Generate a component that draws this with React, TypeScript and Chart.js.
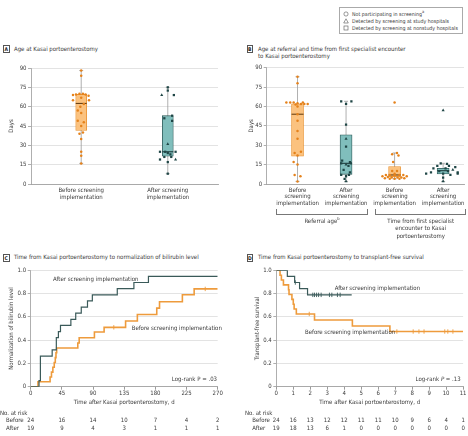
import React, { useEffect, useRef } from 'react';
import { Chart, registerables } from 'chart.js';

Chart.register(...registerables);

const FONT = '"Liberation Sans Narrow", "DejaVu Sans Condensed", "Liberation Sans", Arial, sans-serif';
const FS = 6;
const TXT = '#3a3a3a';
const GRID = '#dcdcdc';
const AXIS = '#9a9a9a';
const WHISKER = '#9a9a9a';
const ORANGE_DOT = '#E5821B';
const ORANGE_FILL = '#FBC27F';
const ORANGE_EDGE = '#E9912F';
const ORANGE_MED = '#6b4316';
const TEAL_DOT = '#1F4646';
const TEAL_FILL = '#80BEBC';
const TEAL_EDGE = '#2C5756';
const TEAL_MED = '#1d3c3c';
const KM_AFTER = '#3A5A59';
const KM_BEFORE = '#EE9B3C';

// ---------- Panel A : age at Kasai portoenterostomy ----------
const aLabels = [['Before screening', 'implementation'], ['After screening', 'implementation']];
const aBeforeStats = [16, 41.5, 62.5, 69.5, 88]; // min, q1, median, q3, max
const aAfterStats = [8, 21.5, 25, 53, 75];
const aBeforeDays = [88, 84, 70, 70, 69.5, 69.5, 68.5, 69, 67, 65, 65, 62, 60, 57, 55, 49, 48, 45, 40, 39, 35, 25, 22, 16];
const aBeforeJitter = [0, 0, -0.02, 0.02, -0.06, 0.05, 0.085, -0.095, 0, -0.095, 0.09, 0.03, -0.01, -0.04, 0, -0.04, 0.03, 0, 0.02, -0.02, 0, 0, 0, 0];
const aAfterDays = [75, 72.5, 69, 69, 53, 51, 49, 31, 25, 25, 25, 24, 23, 21, 21, 19, 19, 17, 8];
const aAfterJitter = [0, 0, -0.07, 0.07, 0.05, -0.04, 0.05, 0, -0.09, 0.09, -0.03, 0, 0.03, -0.04, 0.04, -0.09, 0.09, 0, 0];
const aAfterShapes = ['rect', 'rect', 'triangle', 'rect', 'rect', 'rect', 'rect', 'triangle', 'rect', 'rect', 'rect', 'rect', 'rect', 'rect', 'rect', 'rect', 'triangle', 'rect', 'rect'];

// ---------- Panel B : referral age and first specialist -> Kasai ----------
const bLabels = [
  ['Before', 'screening', 'implementation'],
  ['After', 'screening', 'implementation'],
  ['Before', 'screening', 'implementation'],
  ['After', 'screening', 'implementation'],
];
const bRefBeforeStats = [2, 21.5, 54, 62, 83];
const bRefAfterStats = [2, 7.5, 16, 38, 64];
const bKasaiBeforeStats = [4, 5.7, 7, 13.5, 24];
const bKasaiAfterStats = [2, 7.8, 10.3, 12.2, 16];
const bRefBeforeDays = [83, 78, 63, 63, 63, 63, 62.5, 62, 62, 62, 61.5, 60, 54, 49, 41, 35, 25, 24, 22, 17, 15, 7, 6, 2];
const bRefBeforeJitter = [0, 0, -0.23, -0.15, -0.08, 0.11, 0, 0.07, 0.14, 0.21, -0.04, 0, 0, 0, 0, 0, 0.07, -0.06, 0, -0.08, 0, -0.06, 0.06, 0];
const bRefAfterDays = [64, 64, 62, 46, 35, 29, 18, 17, 16, 16, 15, 14, 11, 9, 7, 7, 6, 4, 2];
const bRefAfterJitter = [-0.1, 0.11, 0, 0, 0, 0, -0.08, 0.08, -0.1, 0.1, 0, 0.05, -0.05, 0.08, -0.1, 0.06, 0, -0.03, 0];
const bRefAfterShapes = ['rect', 'rect', 'rect', 'rect', 'triangle', 'rect', 'rect', 'rect', 'rect', 'rect', 'triangle', 'rect', 'rect', 'rect', 'rect', 'rect', 'rect', 'rect', 'triangle'];
const bKasaiBeforeDays = [63, 24, 23, 22, 17, 10, 10, 8, 7, 7, 7, 7, 6.5, 6, 6, 5.5, 5, 5, 5, 4.5, 4.5, 4, 4, 4];
const bKasaiBeforeJitter = [0, 0.05, -0.05, 0.08, -0.03, -0.05, 0.05, 0, -0.18, 0.18, -0.1, 0.1, 0, -0.25, 0.25, -0.14, 0.14, -0.06, 0.06, -0.2, 0.2, 0, -0.1, 0.1];
const bKasaiAfterDays = [57, 16, 15.5, 14, 14, 13, 12, 12, 11, 10, 10, 9, 9, 8, 8, 8, 7, 5, 2];
const bKasaiAfterJitter = [0, -0.05, 0.08, -0.12, 0.12, 0.25, -0.2, 0.05, 0.2, -0.08, 0.1, 0.3, -0.25, -0.35, 0.3, 0, 0.15, 0, 0];
const bKasaiAfterShapes = ['triangle', 'rect', 'rect', 'rect', 'rect', 'rect', 'rect', 'rect', 'triangle', 'rect', 'rect', 'rect', 'rect', 'rect', 'rect', 'rect', 'rect', 'rect', 'triangle'];

// ---------- Panel C : normalization of bilirubin ----------
const cAfterDays = [0, 12, 14, 31, 37, 40, 43, 58, 65, 73, 82, 89, 125, 149, 170, 270];
const cAfterProp = [0, 0.053, 0.263, 0.316, 0.421, 0.474, 0.526, 0.579, 0.632, 0.684, 0.737, 0.789, 0.842, 0.895, 0.947, 0.947];
const cBeforeDays = [0, 10.5, 28, 30, 32, 34, 35.5, 36.5, 37.5, 68, 70, 92, 106, 137, 154, 182, 186, 219, 236, 270];
const cBeforeProp = [0, 0.042, 0.083, 0.125, 0.167, 0.208, 0.25, 0.292, 0.333, 0.375, 0.42, 0.47, 0.51, 0.565, 0.62, 0.675, 0.73, 0.79, 0.84, 0.84];
const cBeforeCensorDays = [120, 252];
const cBeforeCensorProp = [0.51, 0.84];
const cRiskTimes = [0, 45, 90, 135, 180, 225, 270];
const cRiskBefore = [24, 16, 14, 10, 7, 4, 2];
const cRiskAfter = [19, 9, 4, 3, 1, 1, 1];

// ---------- Panel D : transplant-free survival ----------
const dAfterTime = [0, 0.65, 1.08, 1.37, 1.84, 4.44];
const dAfterSurv = [1, 0.947, 0.895, 0.842, 0.789, 0.789];
const dAfterCensorTime = [1.12, 2.15, 2.25, 2.37, 2.49, 2.64, 3.13, 3.27, 3.6, 3.76];
const dAfterCensorSurv = [0.895, 0.789, 0.789, 0.789, 0.789, 0.789, 0.789, 0.789, 0.789, 0.789];
const dBeforeTime = [0, 0.22, 0.3, 0.42, 0.72, 0.75, 0.92, 1.0, 1.05, 1.18, 2.25, 4.48, 6.69, 11];
const dBeforeSurv = [1, 0.958, 0.917, 0.875, 0.833, 0.792, 0.75, 0.708, 0.667, 0.625, 0.573, 0.521, 0.474, 0.474];
const dBeforeCensorTime = [1.94, 7.1, 8.06, 8.4, 8.7, 9.92, 10.1, 10.4];
const dBeforeCensorSurv = [0.625, 0.474, 0.474, 0.474, 0.474, 0.474, 0.474, 0.474];
const dRiskTimes = [0, 1, 2, 3, 4, 5, 6, 7, 8, 9, 10, 11];
const dRiskBefore = [24, 16, 13, 12, 12, 11, 11, 10, 9, 6, 4, 1];
const dRiskAfter = [19, 18, 13, 6, 1, 0, 0, 0, 0, 0, 0, 0];

type Group = {
  stats: number[]; values: number[]; offsets: number[]; shapes: string[];
  fill: string; edge: string; dot: string; median: string;
};

const radiusFor = (s: string) => (s === 'rect' ? 1.6 : s === 'triangle' ? 1.8 : 1.25);
const font = (size = FS, lh = 1.2) => ({ family: FONT, size, lineHeight: lh });

function boxConfig(p: {
  groups: Group[]; labels: string[][]; xMin: number; xMax: number; barPx: number;
  yAxisWidth: number; yTitlePad: number; padding: any; xAxisHeight: number; lineHeight: number;
}): any {
  const parts = {
    id: 'boxParts',
    beforeDatasetsDraw(chart: any) {
      const { ctx } = chart;
      const x = chart.scales.x, y = chart.scales.y;
      ctx.save();
      ctx.strokeStyle = WHISKER;
      ctx.lineWidth = 0.8;
      p.groups.forEach((g, i) => {
        const px = x.getPixelForValue(i);
        const y0 = y.getPixelForValue(g.stats[0]);
        const y1 = y.getPixelForValue(g.stats[4]);
        ctx.beginPath();
        ctx.moveTo(px, y0); ctx.lineTo(px, y1);
        ctx.moveTo(px - 2, y0); ctx.lineTo(px + 2, y0);
        ctx.moveTo(px - 2, y1); ctx.lineTo(px + 2, y1);
        ctx.stroke();
      });
      ctx.restore();
    },
    afterDatasetDraw(chart: any, args: any) {
      if (args.index !== 0) return;
      const { ctx } = chart;
      const x = chart.scales.x, y = chart.scales.y;
      ctx.save();
      ctx.lineWidth = 1.1;
      p.groups.forEach((g, i) => {
        const px = x.getPixelForValue(i);
        const py = y.getPixelForValue(g.stats[2]);
        ctx.strokeStyle = g.median;
        ctx.beginPath();
        ctx.moveTo(px - p.barPx / 2, py); ctx.lineTo(px + p.barPx / 2, py);
        ctx.stroke();
      });
      ctx.restore();
    },
  };
  const datasets: any[] = [
    {
      type: 'bar',
      data: p.groups.map((g, i) => ({ x: i, y: [g.stats[1], g.stats[3]] })),
      backgroundColor: p.groups.map((g) => g.fill),
      borderColor: p.groups.map((g) => g.edge),
      borderWidth: 0.8,
      borderSkipped: false,
      barThickness: p.barPx,
      grouped: false,
      order: 2,
    },
    ...p.groups.map((g, i) => ({
      type: 'scatter',
      data: g.values.map((v, j) => ({ x: i + g.offsets[j], y: v })),
      pointStyle: g.shapes,
      pointRadius: g.shapes.map(radiusFor),
      backgroundColor: g.dot,
      borderColor: g.dot,
      borderWidth: 0,
      order: 0,
    })),
  ];
  return {
    type: 'bar',
    data: { datasets },
    plugins: [parts],
    options: {
      responsive: false,
      animation: false,
      events: [],
      layout: { padding: p.padding },
      plugins: { legend: { display: false }, tooltip: { enabled: false } },
      scales: {
        x: {
          type: 'linear', min: p.xMin, max: p.xMax, offset: false,
          afterBuildTicks: (s: any) => { s.ticks = p.labels.map((_, i) => ({ value: i })); },
          ticks: {
            callback: (v: any) => p.labels[v] ?? '', maxRotation: 0, autoSkip: false,
            padding: 3, color: TXT, font: font(FS, p.lineHeight),
          },
          grid: { drawOnChartArea: false, drawTicks: false },
          border: { color: AXIS, width: 0.8 },
          afterFit: (s: any) => { s.height = p.xAxisHeight; },
        },
        y: {
          min: 0, max: 90,
          ticks: { stepSize: 15, color: TXT, font: font(), padding: 1.5 },
          grid: { color: GRID, lineWidth: 0.8, tickLength: 3, tickColor: AXIS },
          border: { color: AXIS, width: 0.8 },
          title: { display: true, text: 'Days', color: TXT, font: font(), padding: { top: p.yTitlePad, bottom: 0 } },
          afterFit: (s: any) => { s.width = p.yAxisWidth; },
        },
      },
    },
  };
}

function kmConfig(p: {
  after: { x: number; y: number }[]; before: { x: number; y: number }[];
  afterCensor: { x: number; y: number }[]; beforeCensor: { x: number; y: number }[];
  xMax: number; xStep: number; yTitle: string; yAxisWidth: number; yTitlePad: number; padding: any;
  riskTimes: number[]; riskBefore: number[]; riskAfter: number[];
  noX: number; grpX: number; rows: number[];
}): any {
  const risk = {
    id: 'risk',
    afterDraw(chart: any) {
      const { ctx } = chart;
      const x = chart.scales.x;
      ctx.save();
      ctx.font = `${FS}px ${FONT}`;
      ctx.fillStyle = TXT;
      ctx.textBaseline = 'middle';
      ctx.textAlign = 'left';
      ctx.fillText('No. at risk', p.noX, p.rows[0]);
      ctx.fillText('Before', p.grpX, p.rows[1]);
      ctx.fillText('After', p.grpX, p.rows[2]);
      ctx.textAlign = 'center';
      p.riskTimes.forEach((t, i) => {
        const px = x.getPixelForValue(t);
        ctx.fillText(String(p.riskBefore[i]), px, p.rows[1]);
        ctx.fillText(String(p.riskAfter[i]), px, p.rows[2]);
      });
      ctx.restore();
    },
  };
  const censor = (data: any, color: string) => ({
    type: 'scatter', data, pointStyle: 'line', rotation: 90, pointRadius: 2.2,
    borderColor: color, backgroundColor: color, borderWidth: 0.9, order: 0,
  });
  return {
    type: 'line',
    data: {
      datasets: [
        censor(p.afterCensor, KM_AFTER),
        censor(p.beforeCensor, KM_BEFORE),
        { data: p.after, stepped: true, borderColor: KM_AFTER, borderWidth: 1.2, pointRadius: 0, fill: false, order: 1 },
        { data: p.before, stepped: true, borderColor: KM_BEFORE, borderWidth: 1.6, pointRadius: 0, fill: false, order: 1 },
      ],
    },
    plugins: [risk],
    options: {
      responsive: false,
      animation: false,
      events: [],
      layout: { padding: p.padding },
      plugins: { legend: { display: false }, tooltip: { enabled: false } },
      scales: {
        x: {
          type: 'linear', min: 0, max: p.xMax,
          ticks: { stepSize: p.xStep, color: TXT, font: font(), padding: 0, maxRotation: 0 },
          grid: { drawOnChartArea: false, tickLength: 3, tickColor: AXIS },
          border: { color: AXIS, width: 0.8 },
          title: { display: true, text: 'Time after Kasai portoenterostomy, d', color: TXT, font: font(), padding: { top: 0, bottom: 1 } },
          afterFit: (s: any) => { s.height = 20; },
        },
        y: {
          min: 0, max: 1,
          ticks: {
            stepSize: 0.2, color: TXT, font: font(), padding: 1.5,
            callback: (v: any) => (Math.abs(v) < 1e-9 ? '0' : Number(v).toFixed(1)),
          },
          grid: { color: GRID, lineWidth: 0.8, tickLength: 3, tickColor: AXIS },
          border: { color: AXIS, width: 0.8 },
          title: { display: true, text: p.yTitle, color: TXT, font: font(), padding: { top: p.yTitlePad, bottom: 0 } },
          afterFit: (s: any) => { s.width = p.yAxisWidth; },
        },
      },
    },
  };
}

const pts = (xs: number[], ys: number[]) => xs.map((x, i) => ({ x, y: ys[i] }));
const circles = (n: number) => Array.from({ length: n }, () => 'circle');

function ChartCanvas(props: { left: number; top: number; width: number; height: number; make: () => any }) {
  const ref = useRef<HTMLCanvasElement>(null);
  useEffect(() => {
    const chart = new Chart(ref.current as HTMLCanvasElement, props.make());
    return () => chart.destroy();
  }, []);
  const { left, top, width, height } = props;
  return <canvas ref={ref} width={width} height={height} style={{ position: 'absolute', left, top, width, height }} />;
}

function T(props: { x: number; y: number; align?: 'left' | 'right' | 'center'; size?: number; children: any; style?: any }) {
  const { x, y, align = 'left', size = FS } = props;
  const s: any = {
    position: 'absolute', top: y - 4, fontSize: size, lineHeight: '8px', whiteSpace: 'nowrap',
    fontFamily: FONT, color: TXT, ...(props.style || {}),
  };
  if (align === 'left') s.left = x;
  else if (align === 'right') s.right = 468 - x;
  else { s.left = x; s.transform = 'translateX(-50%)'; }
  return <div style={s}>{props.children}</div>;
}

function Letter(props: { x: number; y: number; ch: string }) {
  return (
    <div style={{
      position: 'absolute', left: props.x, top: props.y, width: 6.5, height: 8, boxSizing: 'border-box',
      border: '0.7px solid #555', fontFamily: FONT, fontWeight: 'bold', fontSize: 5, lineHeight: '6.6px',
      textAlign: 'center', color: '#222', background: '#fff',
    }}>{props.ch}</div>
  );
}

function Sym(props: { kind: string; x: number; y: number }) {
  return (
    <svg width={6} height={6} style={{ position: 'absolute', left: props.x - 3, top: props.y - 3 }}>
      {props.kind === 'circle' && <circle cx={3} cy={3} r={2.1} fill="none" stroke="#555" strokeWidth={0.6} />}
      {props.kind === 'triangle' && <polygon points="3,0.8 5.3,5 0.7,5" fill="none" stroke="#555" strokeWidth={0.6} />}
      {props.kind === 'rect' && <rect x={1} y={1} width={4} height={4} fill="none" stroke="#555" strokeWidth={0.6} />}
    </svg>
  );
}

export default function App() {
  const makeA = () => boxConfig({
    groups: [
      { stats: aBeforeStats, values: aBeforeDays, offsets: aBeforeJitter, shapes: circles(aBeforeDays.length), fill: ORANGE_FILL, edge: ORANGE_EDGE, dot: ORANGE_DOT, median: ORANGE_MED },
      { stats: aAfterStats, values: aAfterDays, offsets: aAfterJitter, shapes: aAfterShapes, fill: TEAL_FILL, edge: TEAL_EDGE, dot: TEAL_DOT, median: TEAL_MED },
    ],
    labels: aLabels, xMin: -0.58, xMax: 1.58, barPx: 11,
    yAxisWidth: 31, yTitlePad: 8.2, padding: { top: 8, right: 12, left: 0, bottom: 0 },
    xAxisHeight: 26, lineHeight: 1.15,
  });
  const makeB = () => boxConfig({
    groups: [
      { stats: bRefBeforeStats, values: bRefBeforeDays, offsets: bRefBeforeJitter, shapes: circles(bRefBeforeDays.length), fill: ORANGE_FILL, edge: ORANGE_EDGE, dot: ORANGE_DOT, median: ORANGE_MED },
      { stats: bRefAfterStats, values: bRefAfterDays, offsets: bRefAfterJitter, shapes: bRefAfterShapes, fill: TEAL_FILL, edge: TEAL_EDGE, dot: TEAL_DOT, median: TEAL_MED },
      { stats: bKasaiBeforeStats, values: bKasaiBeforeDays, offsets: bKasaiBeforeJitter, shapes: circles(bKasaiBeforeDays.length), fill: ORANGE_FILL, edge: ORANGE_EDGE, dot: ORANGE_DOT, median: ORANGE_MED },
      { stats: bKasaiAfterStats, values: bKasaiAfterDays, offsets: bKasaiAfterJitter, shapes: bKasaiAfterShapes, fill: TEAL_FILL, edge: TEAL_EDGE, dot: TEAL_DOT, median: TEAL_MED },
    ],
    labels: bLabels, xMin: -0.635, xMax: 3.43, barPx: 12,
    yAxisWidth: 32.7, yTitlePad: 14, padding: { top: 7.7, right: 1, left: 0, bottom: 0 },
    xAxisHeight: 26, lineHeight: 1.1,
  });
  const makeC = () => kmConfig({
    after: pts(cAfterDays, cAfterProp), before: pts(cBeforeDays, cBeforeProp),
    afterCensor: [], beforeCensor: pts(cBeforeCensorDays, cBeforeCensorProp),
    xMax: 270, xStep: 45, yTitle: 'Normalization of bilirubin level', yAxisWidth: 30.7, yTitlePad: 8.2,
    padding: { top: 8.3, right: 12.3, left: 0, bottom: 29.3 },
    riskTimes: cRiskTimes, riskBefore: cRiskBefore, riskAfter: cRiskAfter,
    noX: 0, grpX: 6, rows: [151.3, 158.7, 166],
  });
  const makeD = () => kmConfig({
    after: pts(dAfterTime, dAfterSurv), before: pts(dBeforeTime, dBeforeSurv),
    afterCensor: pts(dAfterCensorTime, dAfterCensorSurv), beforeCensor: pts(dBeforeCensorTime, dBeforeCensorSurv),
    xMax: 11, xStep: 1, yTitle: 'Transplant-free survival', yAxisWidth: 42.3, yTitlePad: 19.5,
    padding: { top: 8.3, right: 4.3, left: 0, bottom: 29.3 },
    riskTimes: dRiskTimes, riskBefore: dRiskBefore, riskAfter: dRiskAfter,
    noX: 11, grpX: 18.3, rows: [151.3, 158.7, 166],
  });

  return (
    <div style={{ position: 'fixed', left: 0, top: 0, width: 468, height: 436, background: '#fff', overflow: 'hidden' }}>
      <ChartCanvas left={0} top={60} width={230} height={150} make={makeA} />
      <ChartCanvas left={234} top={60} width={234} height={150} make={makeB} />
      <ChartCanvas left={0} top={262} width={230} height={174} make={makeC} />
      <ChartCanvas left={234} top={262} width={234} height={174} make={makeD} />

      {/* legend */}
      <div style={{ position: 'absolute', left: 339.3, top: 7.3, width: 124, height: 26.4, boxSizing: 'border-box', border: '0.7px solid #aaa' }} />
      <Sym kind="circle" x={346} y={14} />
      <Sym kind="triangle" x={346} y={20.7} />
      <Sym kind="rect" x={346} y={27.7} />
      <T x={352} y={14} size={5.25}>Not participating in screening<sup style={{ fontSize: 4, lineHeight: 0 }}>a</sup></T>
      <T x={352} y={20.7} size={5.25}>Detected by screening at study hospitals</T>
      <T x={352} y={27.7} size={5.25}>Detected by screening at nonstudy hospitals</T>

      {/* panel titles */}
      <Letter x={3} y={45} ch="A" />
      <T x={14} y={49}>Age at Kasai portoenterostomy</T>
      <Letter x={246.5} y={45} ch="B" />
      <T x={258} y={49}>Age at referral and time from first specialist encounter</T>
      <T x={258} y={56}>to Kasai portoenterostomy</T>
      <Letter x={3} y={253.5} ch="C" />
      <T x={14} y={257.3}>Time from Kasai portoenterostomy to normalization of bilirubin level</T>
      <Letter x={246.5} y={253.5} ch="D" />
      <T x={258} y={257.3}>Time from Kasai portoenterostomy to transplant-free survival</T>

      {/* B brackets */}
      <div style={{ position: 'absolute', left: 276, top: 209, width: 92.3, height: 5.7, boxSizing: 'border-box', borderLeft: '0.7px solid #777', borderRight: '0.7px solid #777', borderBottom: '0.7px solid #777' }} />
      <div style={{ position: 'absolute', left: 375.3, top: 209, width: 90.7, height: 5.7, boxSizing: 'border-box', borderLeft: '0.7px solid #777', borderRight: '0.7px solid #777', borderBottom: '0.7px solid #777' }} />
      <T x={322} y={220.5} align="center">Referral age<sup style={{ fontSize: 4, lineHeight: 0 }}>b</sup></T>
      <T x={420.7} y={220.7} align="center">Time from first specialist</T>
      <T x={420.7} y={228.2} align="center">encounter to Kasai</T>
      <T x={420.7} y={235.7} align="center">portoenterostomy</T>

      {/* C annotations */}
      <T x={53} y={279}>After screening implementation</T>
      <T x={131.7} y={327.7}>Before screening implementation</T>
      <T x={217} y={379} align="right">Log-rank P = .03</T>

      {/* D annotations */}
      <T x={334.7} y={287.7}>After screening implementation</T>
      <T x={305} y={332}>Before screening implementation</T>
      <T x={460.7} y={379} align="right">Log-rank <i>P</i> = .13</T>
    </div>
  );
}
